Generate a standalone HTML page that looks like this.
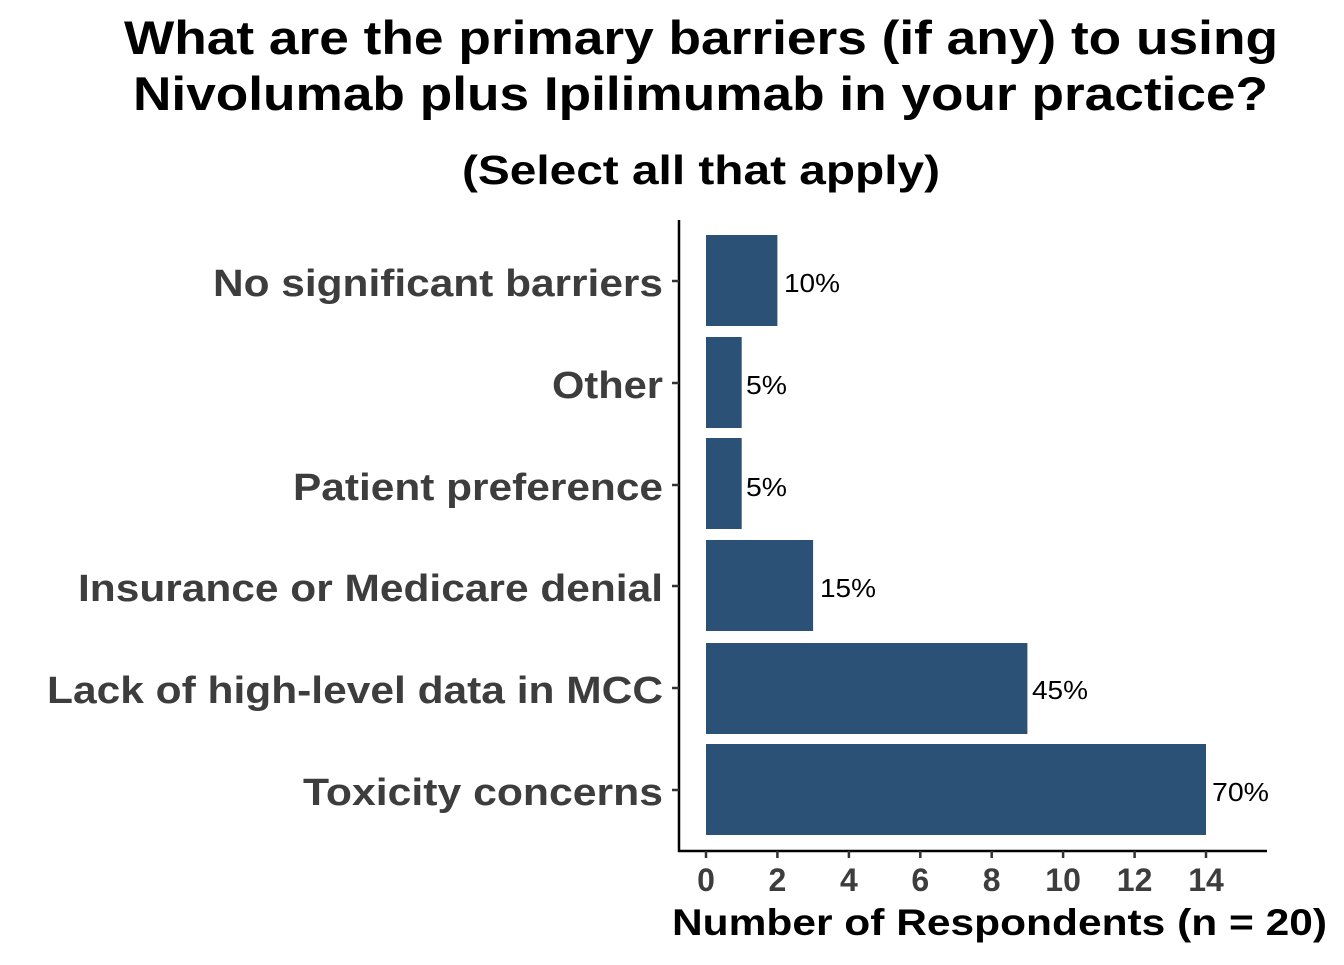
<!DOCTYPE html>
<html><head><meta charset="utf-8"><style>body{margin:0;background:#fff}</style></head><body>
<svg width="1344" height="960" xmlns="http://www.w3.org/2000/svg" font-family="Liberation Sans, Arial, sans-serif">
<rect width="1344" height="960" fill="#fff"/>
<text x="124" y="54" font-size="47" font-weight="bold" fill="#000" textLength="1154" lengthAdjust="spacingAndGlyphs">What are the primary barriers (if any) to using</text>
<text x="133" y="110" font-size="47" font-weight="bold" fill="#000" textLength="1135" lengthAdjust="spacingAndGlyphs">Nivolumab plus Ipilimumab in your practice?</text>
<text x="462" y="184" font-size="41" font-weight="bold" fill="#000" textLength="478" lengthAdjust="spacingAndGlyphs">(Select all that apply)</text>
<g fill="#2c5177">
<rect x="706" y="235" width="71.4" height="91"/>
<rect x="706" y="337" width="35.7" height="91"/>
<rect x="706" y="438" width="35.7" height="91"/>
<rect x="706" y="540" width="107.1" height="91"/>
<rect x="706" y="643" width="321.4" height="91"/>
<rect x="706" y="744" width="500" height="91"/>
</g>
<g font-size="26" fill="#000">
<text x="784" y="292" textLength="56" lengthAdjust="spacingAndGlyphs">10%</text>
<text x="746" y="394" textLength="41" lengthAdjust="spacingAndGlyphs">5%</text>
<text x="746" y="496" textLength="41" lengthAdjust="spacingAndGlyphs">5%</text>
<text x="820" y="597" textLength="56" lengthAdjust="spacingAndGlyphs">15%</text>
<text x="1032" y="699" textLength="56" lengthAdjust="spacingAndGlyphs">45%</text>
<text x="1212" y="801" textLength="57" lengthAdjust="spacingAndGlyphs">70%</text>
</g>
<g font-size="38" font-weight="bold" fill="#3d3d3d">
<text x="213" y="296" textLength="450" lengthAdjust="spacingAndGlyphs">No significant barriers</text>
<text x="552" y="398" textLength="111" lengthAdjust="spacingAndGlyphs">Other</text>
<text x="293" y="500" textLength="370" lengthAdjust="spacingAndGlyphs">Patient preference</text>
<text x="78" y="601" textLength="585" lengthAdjust="spacingAndGlyphs">Insurance or Medicare denial</text>
<text x="47" y="703" textLength="616" lengthAdjust="spacingAndGlyphs">Lack of high-level data in MCC</text>
<text x="303" y="805" textLength="360" lengthAdjust="spacingAndGlyphs">Toxicity concerns</text>
</g>
<g stroke="#000" stroke-width="2.5">
<line x1="679" y1="220" x2="679" y2="852"/>
<line x1="678" y1="851" x2="1267" y2="851"/>
</g>
<g stroke="#333" stroke-width="2.5">
<line x1="672" y1="281" x2="679" y2="281"/><line x1="672" y1="383" x2="679" y2="383"/>
<line x1="672" y1="485" x2="679" y2="485"/><line x1="672" y1="586" x2="679" y2="586"/>
<line x1="672" y1="688" x2="679" y2="688"/><line x1="672" y1="790" x2="679" y2="790"/>
<line x1="706" y1="851" x2="706" y2="858"/><line x1="777.4" y1="851" x2="777.4" y2="858"/>
<line x1="848.9" y1="851" x2="848.9" y2="858"/><line x1="920.3" y1="851" x2="920.3" y2="858"/>
<line x1="991.7" y1="851" x2="991.7" y2="858"/><line x1="1063.1" y1="851" x2="1063.1" y2="858"/>
<line x1="1134.6" y1="851" x2="1134.6" y2="858"/><line x1="1206" y1="851" x2="1206" y2="858"/>
</g>
<g font-size="32" font-weight="bold" fill="#3d3d3d" text-anchor="middle">
<text x="706" y="891">0</text><text x="777.4" y="891">2</text><text x="848.9" y="891">4</text>
<text x="920.3" y="891">6</text><text x="991.7" y="891">8</text><text x="1063.1" y="891">10</text>
<text x="1134.6" y="891">12</text><text x="1206" y="891">14</text>
</g>
<text x="672" y="935" font-size="37" font-weight="bold" fill="#000" textLength="655" lengthAdjust="spacingAndGlyphs">Number of Respondents (n = 20)</text>
</svg>
</body></html>
